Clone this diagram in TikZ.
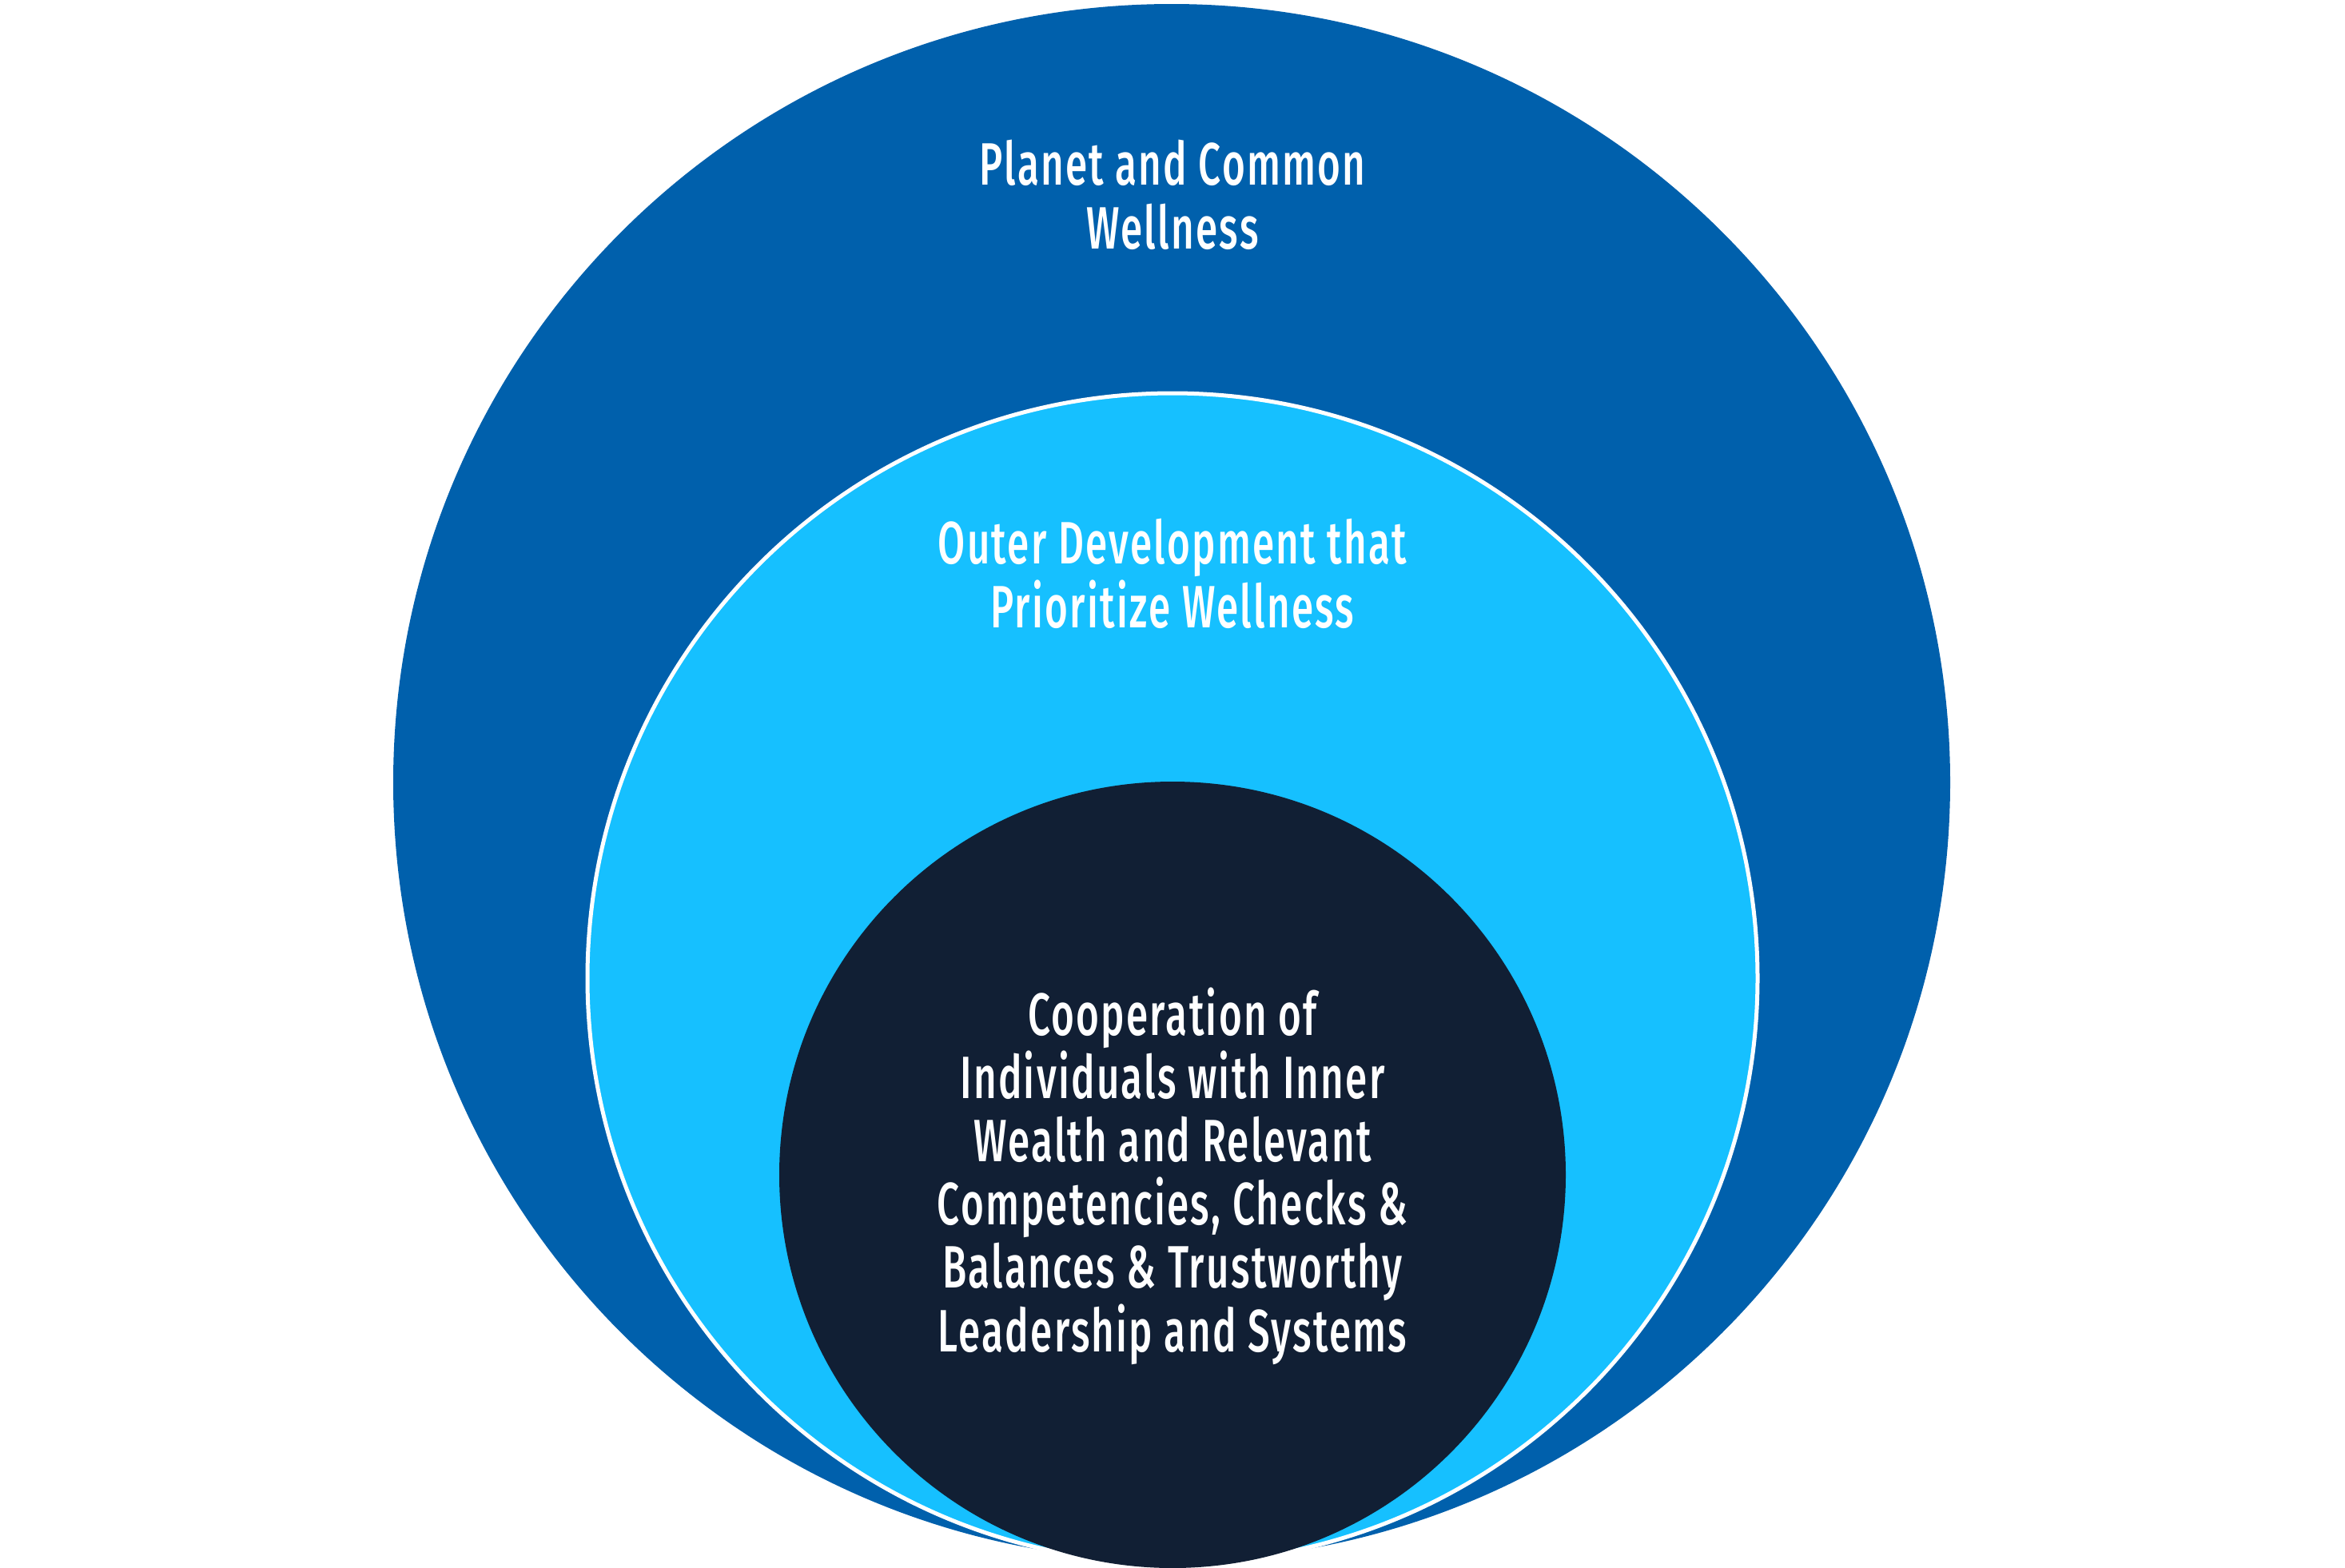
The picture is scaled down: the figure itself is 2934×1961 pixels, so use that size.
\documentclass[tikz,border=0pt]{standalone}
\usepackage{fontspec}
\setmainfont{Fira Sans Medium}[FakeStretch=0.66,LetterSpace=3]
\definecolor{outerblue}{RGB}{0,96,172}
\definecolor{midblue}{RGB}{22,192,255}
\definecolor{innernavy}{RGB}{17,31,52}
\tikzset{
  ring/.style={circle, inner sep=0pt, outer sep=0pt},
  lbl/.style={text=white, align=center, font=\fontsize{18.7}{19.8}\selectfont, inner sep=0pt, anchor=base}
}
\begin{document}
\begin{tikzpicture}[x=0.25pt,y=-0.25pt]
\useasboundingbox (0,0) rectangle (2934,1961);
\node[ring, fill=outerblue, minimum size=487pt] (outer) at (1466,979) {};
\node[ring, fill=midblue, draw=white, line width=1.25pt, minimum size=366pt] (middle) at (1467,1224) {};
\node[ring, fill=innernavy, minimum size=246pt] (inner) at (1467,1470) {};
\node[lbl] (t1) at (1467,311) {Planet and Common\\Wellness};
\node[lbl] (t2) at (1467,785) {Outer Development that\\Prioritize Wellness};
\node[lbl] (t3) at (1467,1691) {Cooperation of\\Individuals with Inner\\Wealth and Relevant\\Competencies, Checks \&\\Balances \& Trustworthy\\Leadership and Systems};
\end{tikzpicture}
\end{document}
